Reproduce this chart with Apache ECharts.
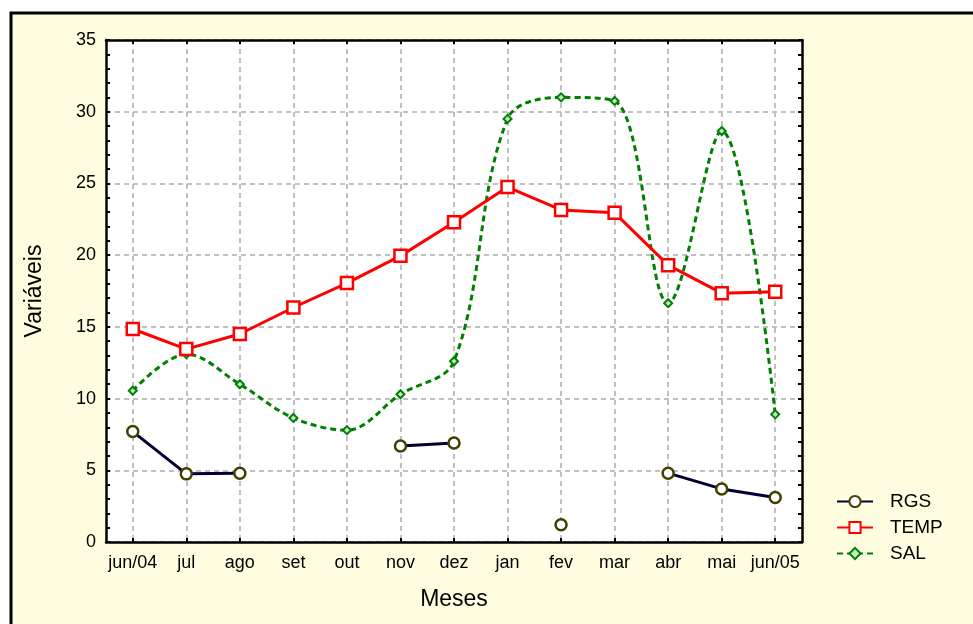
<!doctype html>
<html>
<head>
<meta charset="utf-8">
<title>Variáveis por mês</title>
<script src="https://cdn.jsdelivr.net/npm/echarts@6/dist/echarts.min.js"></script>
<style>
  html, body { margin: 0; padding: 0; background: #fff; }
  #chart { width: 973px; height: 624px; }
</style>
</head>
<body>
<div id="chart"></div>
<script>
var months = ['jun/04', 'jul', 'ago', 'set', 'out', 'nov', 'dez', 'jan', 'fev', 'mar', 'abr', 'mai', 'jun/05'];
var rgs = [7.7, 4.75, 4.8, null, null, 6.7, 6.9, null, 1.2, null, 4.8, 3.7, 3.1];
var temp = [14.85, 13.45, 14.5, 16.35, 18.05, 19.95, 22.3, 24.75, 23.15, 22.95, 19.3, 17.35, 17.45];
var sal = [10.55, 13.1, 11.0, 8.65, 7.8, 10.3, 12.6, 29.5, 31.0, 30.75, 16.65, 28.65, 8.9];
var yMin = 0, yMax = 35, yStep = 5;

var chart = echarts.init(document.getElementById('chart'));
var font = 'Liberation Sans, Arial, sans-serif';

function catAxis(pos, isMain) {
  return {
    type: 'category',
    position: pos,
    data: months,
    boundaryGap: true,
    name: isMain ? 'Meses' : '',
    nameLocation: 'middle',
    nameGap: 46,
    nameTextStyle: { fontFamily: font, fontSize: 23, color: '#000' },
    axisLine: { show: true, onZero: false, lineStyle: { color: '#000', width: 2.5 } },
    axisTick: { show: true, inside: true, alignWithLabel: true, length: 4, lineStyle: { color: '#000', width: 2 } },
    axisLabel: { show: isMain, interval: 0, margin: 12, fontFamily: font, fontSize: 18, color: '#000' },
    splitLine: {
      show: isMain, alignWithLabel: true, interval: 0,
      lineStyle: { color: '#c0c0c0', width: 2, type: [5, 4] }
    }
  };
}

function valAxis(pos, isMain) {
  return {
    type: 'value',
    position: pos,
    min: yMin,
    max: yMax,
    interval: yStep,
    name: isMain ? 'Variáveis' : '',
    nameLocation: 'middle',
    nameGap: 60,
    nameTextStyle: { fontFamily: font, fontSize: 23, color: '#000' },
    axisLine: { show: true, onZero: false, lineStyle: { color: '#000', width: 2.5 } },
    axisTick: { show: true, inside: true, length: 4, lineStyle: { color: '#000', width: 2 } },
    minorTick: { show: true, splitNumber: 5, length: 4, lineStyle: { color: '#000', width: 2 } },
    axisLabel: { show: isMain, margin: 10, fontFamily: font, fontSize: 18, color: '#000' },
    splitLine: {
      show: isMain,
      lineStyle: { color: '#c0c0c0', width: 2, type: [5, 4] }
    }
  };
}

chart.setOption({
  animation: false,
  backgroundColor: '#fff',
  graphic: [{
    type: 'rect',
    z: -10,
    shape: { x: 11, y: 13, width: 1000, height: 700 },
    style: { fill: '#fffde0', stroke: '#000', lineWidth: 3 }
  }],
  grid: {
    left: 106, top: 40, right: 171, bottom: 82,
    show: true, backgroundColor: '#fff', borderWidth: 0
  },
  legend: {
    orient: 'vertical',
    left: 836,
    top: 492,
    padding: 0,
    itemWidth: 36,
    itemHeight: 14,
    itemGap: 7,
    textStyle: { fontFamily: font, fontSize: 19, color: '#000', padding: [0, 0, 0, 12] },
    data: ['RGS', 'TEMP', 'SAL']
  },
  xAxis: [catAxis('bottom', true), catAxis('top', false)],
  yAxis: [valAxis('left', true), valAxis('right', false)],
  series: [{
    name: 'RGS',
    type: 'line',
    data: rgs,
    connectNulls: false,
    symbol: 'circle',
    symbolSize: 11,
    lineStyle: { color: '#000033', width: 3 },
    itemStyle: { color: '#ffffff', borderColor: '#404000', borderWidth: 2.5 },
    z: 3
  }, {
    name: 'TEMP',
    type: 'line',
    data: temp,
    symbol: 'rect',
    symbolSize: 12,
    lineStyle: { color: '#ff0000', width: 3 },
    itemStyle: { color: '#ffffff', borderColor: '#ff0000', borderWidth: 2.5 },
    z: 4
  }, {
    name: 'SAL',
    type: 'line',
    data: sal,
    smooth: 0.35,
    symbol: 'diamond',
    symbolSize: 8,
    lineStyle: { color: '#008000', width: 3, type: [6, 4] },
    itemStyle: { color: '#c8e8c8', borderColor: '#008000', borderWidth: 2 },
    z: 2
  }]
});
</script>
</body>
</html>
